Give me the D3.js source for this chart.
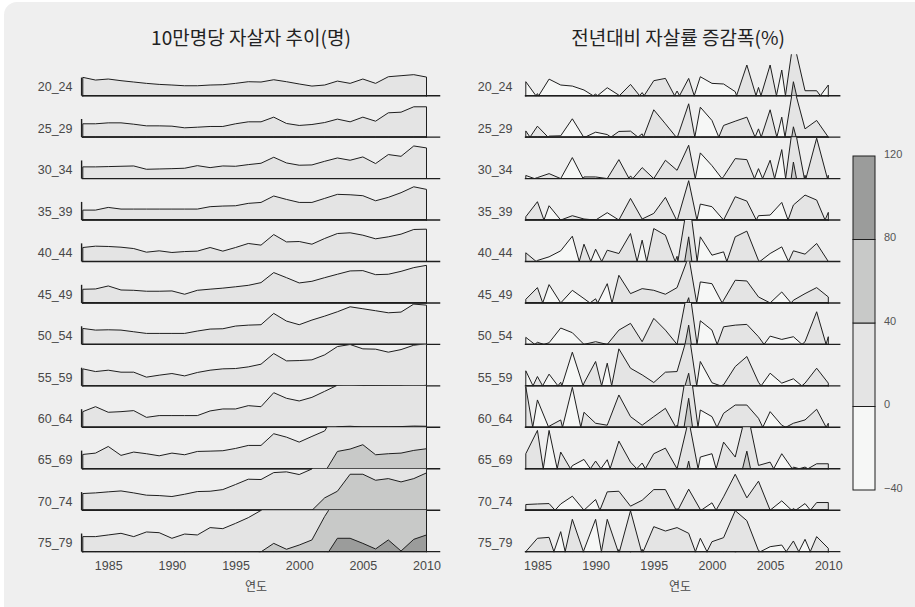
<!DOCTYPE html>
<html>
<head>
<meta charset="utf-8">
<script src="https://cdn.jsdelivr.net/npm/d3@7"></script>
<style>
  body { margin: 0; background: #ffffff; }
  svg { display: block; }
  text { font-family: "Liberation Sans", Arial, sans-serif; }
  .kr { font-family: "Noto Sans CJK KR", "Noto Sans", sans-serif; }
</style>
</head>
<body>
<svg id="chart" width="915" height="607"></svg>
<script>
// ---- data -------------------------------------------------------------
const years = [1983,1984,1985,1986,1987,1988,1989,1990,1991,1992,1993,1994,1995,1996,
               1997,1998,1999,2000,2001,2002,2003,2004,2005,2006,2007,2008,2009,2010];
const changeYears = [1984,1985,1986,1987,1988,1989,1990,1991,1992,1993,1994,1995,1996,
                     1997,1998,1999,2000,2001,2002,2003,2004,2005,2006,2007,2008,2009,2010];
const ageGroups = ["20_24","25_29","30_34","35_39","40_44","45_49",
                   "50_54","55_59","60_64","65_69","70_74","75_79"];

// suicides per 100,000 people, by age group
const rate20_24 = [17.7,15.1,16.1,14.5,13.2,11.9,10.9,10.3,9.6,9.6,10.3,10.6,11.9,13.5,13.2,15.4,13.5,11.3,9.3,10.3,14.1,11.9,16.1,11.9,18.3,19.3,20.3,18.0];
const rate25_29 = [12.9,12.9,13.8,13.8,12.5,10.9,10.9,10.6,9.0,9.6,10.3,10.3,12.9,14.8,14.8,19.3,13.2,11.3,12.2,14.1,17.4,14.8,19.3,15.4,23.5,24.1,29.3,29.3];
const rate30_34 = [11.3,11.3,11.6,11.9,12.2,9.0,9.3,9.6,10.0,12.5,10.6,12.2,11.9,13.5,14.8,20.6,15.1,12.9,13.2,16.7,19.9,17.7,20.9,14.5,23.2,21.5,31.5,29.6];
const rate35_39 = [9.6,9.6,12.2,10.6,10.6,10.6,10.6,10.6,10.6,10.6,12.9,13.5,13.8,16.1,17.0,23.2,19.9,17.0,17.0,20.9,24.8,24.4,23.5,18.6,21.9,26.4,32.1,29.6];
const rate40_44 = [13.5,14.8,14.5,13.8,12.5,9.0,10.3,8.7,9.6,10.0,13.5,10.0,13.5,17.4,15.8,26.0,18.9,19.3,16.7,22.2,27.0,27.7,25.4,21.9,23.8,26.4,30.9,31.2];
const rate45_49 = [13.2,13.5,16.4,12.5,12.2,11.3,11.3,11.6,8.4,12.2,13.3,14.3,15.6,17.0,19.6,29.3,24.4,19.3,20.9,24.4,27.7,30.9,31.2,27.3,27.7,30.5,34.1,36.3];
const rate50_54 = [15.4,13.8,14.1,13.8,12.2,10.6,10.6,10.6,10.6,12.9,14.8,15.1,17.7,18.6,19.0,29.9,22.5,19.0,23.5,27.3,31.5,36.3,34.4,32.5,30.5,31.2,38.9,37.9];
const rate55_59 = [16.4,13.8,15.1,13.2,13.2,8.4,10.3,11.9,9.6,12.9,15.1,16.4,16.7,18.3,20.9,31.2,24.1,24.4,25.1,29.9,37.9,39.9,35.7,35.4,32.5,35.0,39.2,40.6];
const rate60_64 = [15.1,19.9,14.5,15.1,16.1,9.6,11.3,11.3,11.3,11.3,15.8,17.7,17.7,20.9,19.9,33.4,28.0,25.4,28.9,34.7,40.6,41.0,40.3,40.4,40.5,40.7,41.2,41.0];
const rate65_69 = [13.8,15.1,21.5,12.9,16.1,14.5,12.5,15.1,13.5,16.7,17.0,17.4,19.6,22.5,22.5,33.8,30.5,25.7,31.2,36.5,56.7,59.0,63.2,53.5,54.5,55.1,57.7,59.3];
const rate70_74 = [16.1,16.7,17.7,18.6,16.7,14.5,14.1,13.2,15.4,18.0,18.3,19.9,24.8,29.9,29.6,36.3,37.0,34.4,39.8,51.9,58.3,74.7,74.7,68.9,70.5,67.3,70.5,76.0];
const rate75_79 = [14.5,14.5,16.1,17.7,14.5,19.0,18.3,12.9,17.0,16.1,23.2,22.2,27.3,32.8,39.8,48.0,42.3,46.4,51.3,74.0,92.9,92.9,88.0,82.6,91.3,80.6,91.9,96.1];

// year-over-year change of the rate (%)
const change20_24 = [-13.5,2,-16,-10.3,-9.3,-5.5,1.5,-7.7,-0.5,10.9,-3,14.5,16.7,-4.5,16.7,-18.3,-11.9,-11.3,-3.9,29.6,-8,29.6,-24.8,53.5,4.8,4.8,-10.3];
const change25_29 = [-6,10.6,-1,-1.3,-17.7,0.5,-4.8,-2.5,5.5,5.8,-3.2,26.4,12.9,-1,32.2,-28.9,-16.1,11.3,15.4,19.3,-8,26.4,-19.3,50,8,16.1,0];
const change30_34 = [-3,1,4.8,0,-20.3,1.6,1.6,0,18.3,-2.6,10.6,0,17.7,8.0,32.2,-24.8,-12.5,2,19.3,18.3,-9.6,17.7,-28,56,-3.2,39,-3.2];
const change35_39 = [3.2,17.7,-13.8,0,4.2,1,0,-7.1,0,20.9,1,6.4,21.9,-1,38,-15.4,-12.9,0,22.5,18.3,-4.2,-4.8,-17,14.5,24.1,19.3,-7.4];
const change40_44 = [8.4,-1,-4.5,-10.3,-24.4,16.7,-11.9,10.9,7.7,27.0,-20.6,31.8,25.4,-5,63.8,-23.8,-6.1,-9.3,23.8,29.3,1,-7.7,-14.1,10.3,7.1,17.4,0];
const change45_49 = [3.5,14.8,-17.7,0,-12.2,-4.2,4,-18.6,26.7,9.0,13.8,12.2,8.4,14.8,45.1,-20.3,-18.6,2.6,21.9,21.2,5.8,0,-10.6,2.6,9.0,14.8,5.8];
const change50_54 = [-6.8,2,-1.6,-15.8,-11.3,0,-2.6,0,13.8,20.3,2.6,25.1,13.8,0,58.6,-22.8,-13.8,17.0,18.6,19.3,7.4,-8.0,-4.8,-7.4,2.6,31.5,-7.4];
const change55_59 = [-14.5,9.0,-11.3,3.5,-32.5,2.6,23.5,-21.9,35.7,17.0,10.6,3.2,13.2,13.8,52.2,-23.5,-3,1,18.6,28.3,3.5,-12.2,-2.6,-6.8,2.6,17.0,2.6];
const change60_64 = [39,-26.4,1,7.1,-38.6,14.5,3.9,2,31.2,10.3,2,10.3,18.3,-2,68,-16.7,-10.3,13.5,21.5,21.5,8.7,-15.1,-2,3.9,7.1,17.4,-3.9];
const change65_69 = [14.5,37,-37,16.1,-3,-9.0,7.4,-8.7,26.7,6.4,-5.5,14.5,19.9,0,47.4,-11.3,-14.5,25.7,11.3,57,3.2,6.4,-14.5,1.6,-1.6,4.8,4.8];
const change70_74 = [5.5,6,6.4,-6,-13.5,0,-10.3,17.7,18.3,3.9,9.6,19.9,19.9,-1.6,20.3,0.6,-7.1,12.9,34.7,11.9,28.0,0,-9.0,1.6,-6.4,7.4,7.4];
const change75_79 = [0,12.9,13.8,-19.3,31.2,-1.6,-31.2,31.2,-2,39.5,-2.3,24.1,19.9,23.2,17.7,-12.9,9.6,13.5,39.5,29.9,1,-4.8,-6.4,10.3,-11.9,14.5,3.2];

const xTicks = [1985,1990,1995,2000,2005,2010];
const legendBreaks = [-40,0,40,80,120];
const bandSize = 40;

const rates = [rate20_24,rate25_29,rate30_34,rate35_39,rate40_44,rate45_49,
               rate50_54,rate55_59,rate60_64,rate65_69,rate70_74,rate75_79];
const changes = [change20_24,change25_29,change30_34,change35_39,change40_44,change45_49,
                 change50_54,change55_59,change60_64,change65_69,change70_74,change75_79];

// ---- styling ----------------------------------------------------------
const negColor = "#f6f7f6";
const posColors = ["#e4e4e4", "#c8c9c8", "#9b9c9b"];
const lineColor = "#1e1e1e";
const textColor = "#484848";

const rowTop = 54.25;
const rowH = 41.45;

const svg = d3.select("#chart");

svg.append("rect")
  .attr("x", 4).attr("y", 2)
  .attr("width", 960).attr("height", 660)
  .attr("rx", 13)
  .attr("fill", "#efefef");

const yBand = d3.scaleLinear().domain([0, bandSize]).range([rowH, 0]);

// horizon panel: each row folds the series into bands of 40,
// negative values are mirrored above the baseline with their own fill
function horizonPanel(opts) {
  const { x, xYears, series, labelX, id, startTick } = opts;
  const area = d3.area()
    .x((d, i) => x(xYears[i]))
    .y0(yBand(0))
    .y1(d => yBand(d));

  const [x0, x1] = x.range();
  const panel = svg.append("g");

  series.forEach((vals, k) => {
    const g = panel.append("g")
      .attr("transform", `translate(0,${rowTop + k * rowH})`);

    g.append("clipPath").attr("id", `${id}-clip-${k}`)
      .append("rect")
      .attr("x", x0).attr("y", 0)
      .attr("width", x1 - x0).attr("height", rowH + 0.5);

    const layers = g.append("g").attr("clip-path", `url(#${id}-clip-${k})`);

    for (let b = 0; b < posColors.length; b++) {
      layers.append("path")
        .datum(vals.map(v => v - b * bandSize))
        .attr("d", area)
        .attr("fill", posColors[b])
        .attr("stroke", lineColor)
        .attr("stroke-width", 1)
        .attr("stroke-linejoin", "miter");
      if (b === 0) {
        layers.append("path")
          .datum(vals.map(v => -v))
          .attr("d", area)
          .attr("fill", negColor)
          .attr("stroke", lineColor)
          .attr("stroke-width", 1);
      }
    }

    // baseline of the row
    g.append("line")
      .attr("x1", x(xYears[0]) - 1).attr("x2", x1)
      .attr("y1", yBand(0)).attr("y2", yBand(0))
      .attr("stroke", lineColor)
      .attr("stroke-width", 1.4);

    if (startTick) {
      g.append("line")
        .attr("x1", x(xYears[0]) - 1.2).attr("x2", x(xYears[0]) - 1.2)
        .attr("y1", yBand(0)).attr("y2", yBand(17.5))
        .attr("stroke", lineColor)
        .attr("stroke-width", 1.4);
    }

    g.append("text")
      .attr("x", labelX)
      .attr("y", yBand(0) - 4.3)
      .attr("text-anchor", "end")
      .attr("font-size", 12.5)
      .attr("fill", textColor)
      .text(ageGroups[k]);
  });

  // x axis
  const axis = d3.axisBottom(x)
    .tickValues(xTicks)
    .tickFormat(d3.format("d"))
    .tickSize(0)
    .tickPadding(3);
  const ax = svg.append("g")
    .attr("transform", `translate(0,${rowTop + series.length * rowH + 6})`)
    .call(axis);
  ax.select(".domain").remove();
  ax.selectAll("text")
    .attr("font-size", 12.5)
    .attr("fill", textColor)
    .style("font-family", "'Liberation Sans', Arial, sans-serif");
}

// left: rate per 100k
const xLeft = d3.scaleLinear().domain([1981.92, 2011.08]).range([69.05, 440.25]);
horizonPanel({ x: xLeft, xYears: years, series: rates, labelX: 72.5, id: "rate", startTick: true });

// right: year-over-year change
const xRight = d3.scaleLinear().domain([1982.96, 2011.04]).range([513.7, 840.4]);
horizonPanel({ x: xRight, xYears: changeYears, series: changes, labelX: 512.5, id: "chg", startTick: false });

// titles
svg.append("text").attr("class", "kr")
  .attr("x", 251).attr("y", 45)
  .attr("text-anchor", "middle")
  .attr("font-size", 19)
  .attr("fill", "#222")
  .text("10만명당 자살자 추이(명)");

svg.append("text").attr("class", "kr")
  .attr("x", 678).attr("y", 45)
  .attr("text-anchor", "middle")
  .attr("font-size", 19)
  .attr("fill", "#222")
  .text("전년대비 자살률 증감폭(%)");

// axis titles
[[256, "연도"], [680, "연도"]].forEach(([cx, t]) => {
  svg.append("text").attr("class", "kr")
    .attr("x", cx).attr("y", 591)
    .attr("text-anchor", "middle")
    .attr("font-size", 12)
    .attr("fill", textColor)
    .text(t);
});

// colour key
const yKey = d3.scaleLinear().domain([-40, 120]).range([490, 156]);
const keyX = 853, keyW = 22;
const keyColors = [negColor, ...posColors];
const key = svg.append("g");
legendBreaks.slice(0, -1).forEach((lo, i) => {
  const hi = legendBreaks[i + 1];
  key.append("rect")
    .attr("x", keyX).attr("y", yKey(hi))
    .attr("width", keyW).attr("height", yKey(lo) - yKey(hi))
    .attr("fill", keyColors[i])
    .attr("stroke", lineColor)
    .attr("stroke-width", 1);
});
legendBreaks.forEach(t => {
  key.append("text")
    .attr("x", 884).attr("y", yKey(t) - 2)
    .attr("dy", "0.35em")
    .attr("font-size", 11)
    .attr("fill", "#555")
    .text(t < 0 ? "\u2212" + Math.abs(t) : t);
});
</script>
</body>
</html>
